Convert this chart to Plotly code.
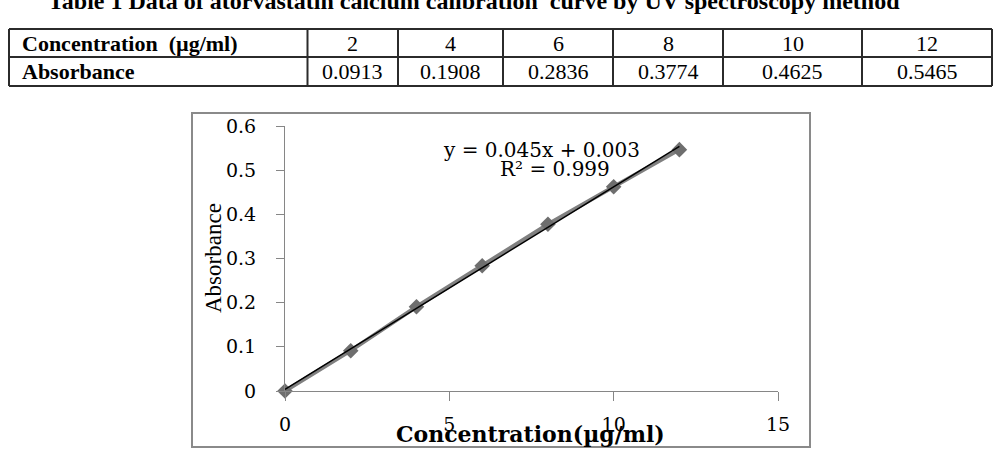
import numpy as np
import plotly.graph_objects as go

# ---------------- data ----------------
title_text = "Table 1 Data of atorvastatin calcium calibration  curve by UV spectroscopy method"
row_labels = ["Concentration  (µg/ml)", "Absorbance"]
table_conc = ["2", "4", "6", "8", "10", "12"]
table_abs = ["0.0913", "0.1908", "0.2836", "0.3774", "0.4625", "0.5465"]

plot_conc = [0, 2, 4, 6, 8, 10, 12]
plot_abs = [0, 0.0913, 0.1908, 0.2836, 0.3774, 0.4625, 0.5465]

x_tickvals = [0, 5, 10, 15]
x_ticktext = ["0", "5", "10", "15"]
y_tickvals = [0, 0.1, 0.2, 0.3, 0.4, 0.5, 0.6]
y_ticktext = ["0", "0.1", "0.2", "0.3", "0.4", "0.5", "0.6"]

equation_text = "y = 0.045x + 0.003"
r2_text = "R² = 0.999"
x_title = "Concentration(µg/ml)"
y_title = "Absorbance"

# ---------------- layout geometry (pixels) ----------------
FIG_W, FIG_H = 1000, 459
L, R, T, B = 285, 222, 126, 68
PW, PH = FIG_W - L - R, FIG_H - T - B


def px(x):
    return (x - L) / PW


def py(y):
    return (FIG_H - B - y) / PH


col_edges = [9, 307.5, 398, 503, 613, 723, 862, 992]
row_edges = [29, 57, 86]

# ---------------- traces ----------------
slope, intercept = np.polyfit(plot_conc, plot_abs, 1)
fit_x = np.array([min(plot_conc), max(plot_conc)])
fit_y = slope * fit_x + intercept

fig = go.Figure()
fig.add_trace(go.Scatter(
    x=plot_conc, y=plot_abs, mode="lines+markers",
    line=dict(color="#808080", width=4),
    marker=dict(symbol="diamond", size=12, color="#6e6e6e"),
    cliponaxis=False, showlegend=False, hoverinfo="skip"))
fig.add_trace(go.Scatter(
    x=fit_x, y=fit_y, mode="lines",
    line=dict(color="#000000", width=1.5),
    cliponaxis=False, showlegend=False, hoverinfo="skip"))

# ---------------- shapes ----------------
shapes = []
# chart border box
shapes.append(dict(type="rect", xref="paper", yref="paper",
                   x0=px(192), x1=px(810), y0=py(447), y1=py(113),
                   line=dict(color="#8a8a8a", width=2), fillcolor="rgba(0,0,0,0)"))
# table grid
for ry in row_edges:
    shapes.append(dict(type="line", xref="paper", yref="paper",
                       x0=px(col_edges[0]), x1=px(col_edges[-1]), y0=py(ry), y1=py(ry),
                       line=dict(color="#2b2b2b", width=2)))
for cx in col_edges:
    shapes.append(dict(type="line", xref="paper", yref="paper",
                       x0=px(cx), x1=px(cx), y0=py(row_edges[0]), y1=py(row_edges[-1]),
                       line=dict(color="#2b2b2b", width=2)))

# ---------------- annotations ----------------
ann = []
serif = "Liberation Serif, Times New Roman, serif"
wide_serif = "DejaVu Serif, serif"

ann.append(dict(text="<b>%s</b>" % title_text, x=px(474), y=py(1),
                xref="paper", yref="paper", xanchor="center", yanchor="middle",
                showarrow=False, font=dict(family=serif, size=24, color="#000")))

row_centers = [(row_edges[i] + row_edges[i + 1]) / 2 for i in range(len(row_edges) - 1)]
for lbl, yc in zip(row_labels, row_centers):
    ann.append(dict(text="<b>%s</b>" % lbl, x=px(20), y=py(yc),
                    xref="paper", yref="paper", xanchor="left", yanchor="middle",
                    showarrow=False, font=dict(family=serif, size=22, color="#000")))
for i, (c, a) in enumerate(zip(table_conc, table_abs)):
    xc = (col_edges[i + 1] + col_edges[i + 2]) / 2
    ann.append(dict(text=c, x=px(xc), y=py(row_centers[0]),
                    xref="paper", yref="paper", xanchor="center", yanchor="middle",
                    showarrow=False, font=dict(family=serif, size=22, color="#000")))
    ann.append(dict(text=a, x=px(xc), y=py(row_centers[1]),
                    xref="paper", yref="paper", xanchor="center", yanchor="middle",
                    showarrow=False, font=dict(family=serif, size=22, color="#000")))

# equation and R^2
ann.append(dict(text=equation_text, x=px(541), y=py(150),
                xref="paper", yref="paper", xanchor="center", yanchor="middle",
                showarrow=False, font=dict(family=wide_serif, size=20, color="#000")))
ann.append(dict(text=r2_text, x=px(555), y=py(169),
                xref="paper", yref="paper", xanchor="center", yanchor="middle",
                showarrow=False, font=dict(family=wide_serif, size=20, color="#000")))

# axis titles
ann.append(dict(text="<b>%s</b>" % x_title, x=px(530), y=py(434),
                xref="paper", yref="paper", xanchor="center", yanchor="middle",
                showarrow=False, font=dict(family=wide_serif, size=22, color="#000")))
ann.append(dict(text=y_title, x=px(213), y=py(258), textangle=-90,
                xref="paper", yref="paper", xanchor="center", yanchor="middle",
                showarrow=False, font=dict(family=serif, size=23, color="#000")))

fig.update_layout(
    width=FIG_W, height=FIG_H,
    margin=dict(l=L, r=R, t=T, b=B, pad=0),
    paper_bgcolor="white", plot_bgcolor="white",
    shapes=shapes, annotations=ann,
    xaxis=dict(range=[0, 15], tickvals=x_tickvals, ticktext=x_ticktext,
               showline=True, linecolor="#868686", linewidth=1,
               ticks="outside", ticklen=9, tickcolor="#868686", tickwidth=1,
               showgrid=False, zeroline=False, ticklabelstandoff=7,
               tickfont=dict(family=wide_serif, size=19, color="#000")),
    yaxis=dict(range=[0, 0.6], tickvals=y_tickvals, ticktext=y_ticktext,
               showline=True, linecolor="#868686", linewidth=1,
               ticks="outside", ticklen=8, tickcolor="#868686", tickwidth=1,
               showgrid=False, zeroline=False, ticklabelstandoff=16,
               tickfont=dict(family=wide_serif, size=19, color="#000")),
)

fig.write_html("out.html")
